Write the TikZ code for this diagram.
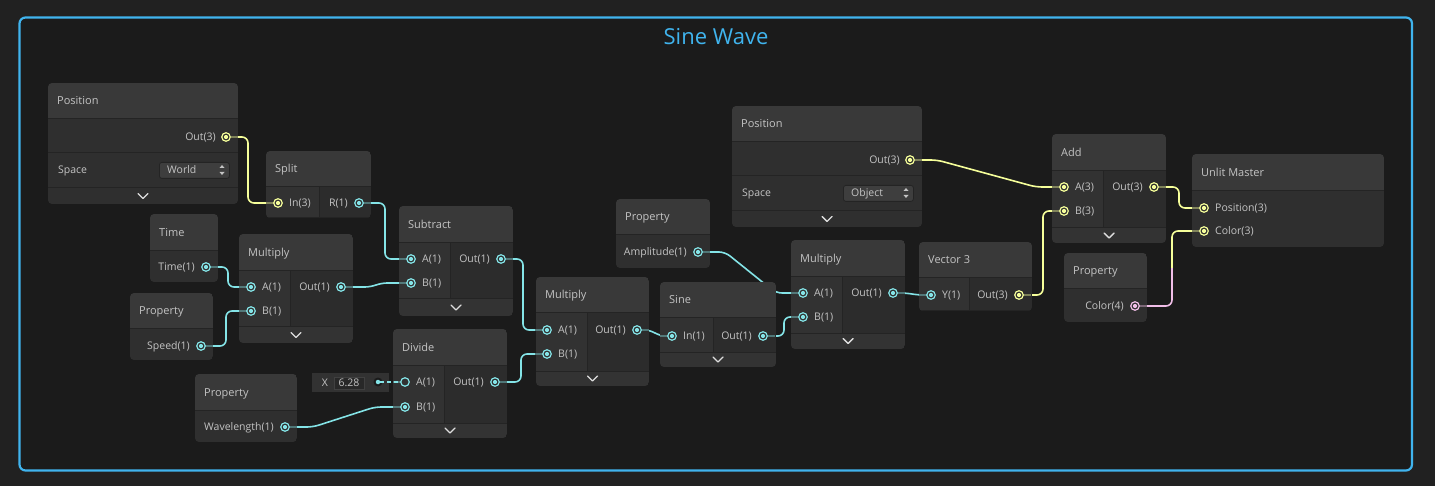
\documentclass[tikz,border=0pt]{standalone}
\usepackage{fontspec}
\setmainfont{Open Sans}
\usepackage{tikz}
\usetikzlibrary{calc}
\definecolor{sgOuter}{RGB}{33,33,33}
\definecolor{sgInner}{RGB}{27,27,27}
\definecolor{frameBlue}{RGB}{64,180,238}
\definecolor{sgHead}{RGB}{57,57,57}
\definecolor{sgBody}{RGB}{47,47,47}
\definecolor{sgIn}{RGB}{50,50,50}
\definecolor{sgOut}{RGB}{44,44,44}
\definecolor{sgChevRow}{RGB}{51,51,51}
\definecolor{sgLine}{RGB}{36,36,36}
\definecolor{sgText}{RGB}{196,196,196}
\definecolor{sgChev}{RGB}{222,222,222}
\definecolor{wireC}{RGB}{132,228,231}
\definecolor{wireY}{RGB}{246,255,154}
\definecolor{wireP}{RGB}{241,190,232}
\definecolor{dropFill}{RGB}{62,62,62}
\definecolor{dropLine}{RGB}{36,36,36}
\definecolor{fieldFill}{RGB}{50,50,50}
\definecolor{valFill}{RGB}{40,40,40}
\definecolor{valLine}{RGB}{64,64,64}
\pgfdeclarelayer{back}
\pgfdeclarelayer{wires}
\pgfsetlayers{back,wires,main}
\tikzset{
  groupframe/.style={draw=frameBlue, line width=2.2pt, fill=sgInner, rounded corners=6pt},
  grouptitle/.style={text=frameBlue, inner sep=0pt, font=\fontsize{22}{26}\selectfont},
  sgtitle/.style={anchor=west, inner sep=0pt, text=sgText, text height=10pt, text depth=2pt, font=\fontsize{11}{13}\selectfont},
  plabel/.style={inner sep=0pt, text=sgText, text height=9.5pt, text depth=2pt, font=\fontsize{10.5}{12}\selectfont},
  sgport/.style={circle, draw=#1, line width=1.2pt, minimum size=8.5pt, inner sep=0pt,
    path picture={\fill[#1] (path picture bounding box.center) circle (2.1pt);}},
  hollowport/.style={circle, draw=#1, line width=1.2pt, minimum size=8.5pt, inner sep=0pt},
  chevron/.style={draw=sgChev, line width=1.4pt, line cap=round, line join=round},
  dropbox/.style={draw=dropLine, fill=dropFill, rounded corners=2.5pt, line width=0.8pt, inner sep=0pt},
  wire/.style={line width=1.6pt, rounded corners=6pt},
}
% node with header and body
\newcommand{\sgprop}[7]{%
  \begin{scope}
    \clip[rounded corners=4pt] (#2,#3) rectangle (#4,#5);
    \fill[sgHead] (#2,#3) rectangle (#4,#6);
    \fill[sgBody] (#2,#6) rectangle (#4,#5);
    \draw[sgLine, line width=1pt] (#2,#6) -- (#4,#6);
  \end{scope}
  \node[sgtitle] (#1) at (#2+9,{(#3+#6)/2}) {#7};
}
% node with input / output columns
\newcommand{\sgmath}[9]{%
  \begin{scope}
    \clip[rounded corners=4pt] (#2,#3) rectangle (#4,#5);
    \fill[sgHead] (#2,#3) rectangle (#4,#6);
    \fill[sgChevRow] (#2,#8) rectangle (#4,#5);
    \fill[sgIn] (#2,#6) rectangle (#7,#8);
    \fill[sgOut] (#7,#6) rectangle (#4,#8);
    \draw[sgLine, line width=1pt] (#2,#6) -- (#4,#6) (#2,#8) -- (#4,#8) (#7,#6) -- (#7,#8);
  \end{scope}
  \node[sgtitle] (#1) at (#2+9,{(#3+#6)/2}) {#9};
  \ifnum#8<#5
    \draw[chevron] ({(#2+#4)/2-5},{(#8+#5)/2-2.5}) -- ++(5,5) -- ++(5,-5);
  \fi
}
\newcommand{\sgposition}[4]{%
  \begin{scope}[shift={(#2,#3)}]
    \begin{scope}
      \clip[rounded corners=4pt] (0,0) rectangle (190,121);
      \fill[sgHead] (0,0) rectangle (190,36);
      \fill[sgBody] (0,36) rectangle (190,121);
      \draw[sgLine, line width=1pt] (0,36) -- (190,36) (0,70) -- (190,70) (0,105) -- (190,105);
    \end{scope}
    \node[sgtitle] (#1) at (9,18) {Position};
    \draw[{wireY!40!sgBody}, line width=1.6pt] (183,54) -- (190,54);
    \node[sgport=wireY] (#1out) at (178,54) {};
    \node[plabel, anchor=east] (#1outlab) at (168,54) {Out(3)};
    \node[plabel, anchor=west] (#1sp) at (10,87) {Space};
    \node[dropbox, minimum width=70pt, minimum height=16pt, anchor=north west] (#1dd) at (111,79) {};
    \node[plabel, anchor=west] (#1ddlab) at (119,87) {#4};
    \fill[sgText] (171.5,85) -- (176.5,85) -- (174,82) -- cycle;
    \fill[sgText] (171.5,89) -- (176.5,89) -- (174,92) -- cycle;
    \draw[chevron] (90,110.5) -- ++(5,5) -- ++(5,-5);
  \end{scope}
}
\newcommand{\inport}[5]{%
  \draw[{#4!40!sgIn}, line width=1.6pt] (#2-12,#3) -- (#2-4,#3);
  \node[sgport=#4] (#1) at (#2,#3) {};
  \node[plabel, anchor=west] (#1lab) at (#2+11,#3) {#5};
}
\newcommand{\outport}[5]{%
  \draw[{#4!40!sgOut}, line width=1.6pt] (#2+4,#3) -- (#2+12,#3);
  \node[sgport=#4] (#1) at (#2,#3) {};
  \node[plabel, anchor=east] (#1lab) at (#2-11,#3) {#5};
}
\begin{document}
\begin{tikzpicture}[x=1pt,y=-1pt]
\useasboundingbox (0,0) rectangle (1435,486);
\begin{pgfonlayer}{back}
\fill[sgOuter] (0,0) rectangle (1435,486);
\draw[groupframe] (19.5,17.5) rectangle (1412,470.5);
\end{pgfonlayer}
\node[grouptitle] (title) at (716,37) {Sine Wave};

% left part
\sgposition{posw}{48}{83}{World}
\sgmath{split}{266}{151}{371}{218}{187}{319}{218}{Split}
\inport{splitin}{278}{203}{wireY}{In(3)}
\outport{splitr}{359}{203}{wireC}{R(1)}

\sgprop{time}{150}{214}{218}{282}{251}{Time}
\outport{timeout}{206}{267}{wireC}{Time(1)}
\sgprop{speed}{130}{293}{213}{360}{329}{Property}
\outport{speedout}{201}{346}{wireC}{Speed(1)}

\sgmath{mulA}{239}{234}{353}{343}{271}{290}{327}{Multiply}
\inport{mulAa}{251}{287}{wireC}{A(1)}
\inport{mulAb}{251}{311}{wireC}{B(1)}
\outport{mulAout}{341}{287}{wireC}{Out(1)}

\sgmath{sub}{399}{206}{513}{316}{243}{450}{299}{Subtract}
\inport{suba}{411}{259}{wireC}{A(1)}
\inport{subb}{411}{283}{wireC}{B(1)}
\outport{subout}{501}{259}{wireC}{Out(1)}

\sgprop{wave}{195}{374}{297}{442}{410}{Property}
\outport{waveout}{285}{427}{wireC}{Wavelength(1)}

\sgmath{div}{393}{329}{507}{438}{365}{444}{423}{Divide}
\draw[{wireC!40!sgIn}, line width=1.6pt] (393,382) -- (401,382);
\node[hollowport=wireC] (diva) at (405,382) {};
\node[plabel, anchor=west] (divalab) at (416,382) {A(1)};
\inport{divb}{405}{407}{wireC}{B(1)}
\outport{divout}{495}{382}{wireC}{Out(1)}

% constant input of Divide
\node[fill=fieldFill, minimum width=77pt, minimum height=19pt, inner sep=0pt] (field) at (350.5,382.5) {};
\node[plabel] (fieldx) at (325,382.5) {X};
\node[fill=valFill, draw=valLine, line width=0.6pt, minimum width=30pt, minimum height=12pt,
  inner sep=0pt, text=sgText, font=\fontsize{10.5}{12}\selectfont] (fieldval) at (349,383) {6.28};
\node[circle, fill=sgInner, minimum size=9pt, inner sep=0pt] (fieldring) at (378,382) {};
\node[circle, fill=wireC, minimum size=4.5pt, inner sep=0pt] (fieldout) at (378,382) {};
\draw[wireC, line width=1.6pt, dash pattern=on 4pt off 3pt] (fieldout) -- (diva);

% middle part
\sgmath{mulB}{536}{277}{649}{386}{313}{587}{371}{Multiply}
\inport{mulBa}{547}{330}{wireC}{A(1)}
\inport{mulBb}{547}{354}{wireC}{B(1)}
\outport{mulBout}{637}{330}{wireC}{Out(1)}

\sgprop{amp}{616}{199}{710}{268}{235}{Property}
\outport{ampout}{698}{252}{wireC}{Amplitude(1)}

\sgmath{sine}{660}{282}{776}{367}{318}{713}{352}{Sine}
\inport{sinein}{672}{336}{wireC}{In(1)}
\outport{sineout}{763}{336}{wireC}{Out(1)}

\sgmath{mulC}{791}{240}{905}{349}{277}{842}{333}{Multiply}
\inport{mulCa}{803}{293}{wireC}{A(1)}
\inport{mulCb}{803}{317}{wireC}{B(1)}
\outport{mulCout}{893}{293}{wireC}{Out(1)}

% right part
\sgposition{poso}{732}{106}{Object}

\sgmath{vec}{919}{242}{1032}{311}{278}{969}{311}{Vector 3}
\inport{vecy}{931}{295}{wireC}{Y(1)}
\outport{vecout}{1019}{295}{wireY}{Out(3)}

\sgmath{add}{1052}{134}{1166}{243}{171}{1103}{228}{Add}
\inport{adda}{1064}{187}{wireY}{A(3)}
\inport{addb}{1064}{211}{wireY}{B(3)}
\outport{addout}{1154}{187}{wireY}{Out(3)}

\sgprop{pcol}{1064}{253}{1147}{322}{289}{Property}
\outport{pcolout}{1135}{306}{wireP}{Color(4)}

\sgprop{master}{1192}{154}{1384}{247}{191}{Unlit Master}
\inport{mpos}{1204}{208}{wireY}{Position(3)}
\inport{mcol}{1204}{231}{wireY}{Color(3)}

% edges
\begin{pgfonlayer}{wires}
\draw[wire, draw=wireY] (poswout.center) -- ++(22,0) |- (splitin.center);
\draw[wire, draw=wireC] (splitr.center) -- ++(26,0) |- (suba.center);
\draw[wire, draw=wireC] (timeout.center) -- ++(22,0) |- (mulAa.center);
\draw[wire, draw=wireC] (speedout.center) -- ++(25,0) |- (mulAb.center);
\draw[wire, draw=wireC] (mulAout.center) -- ++(30,0) -- ($(subb.center)+(-30,0)$) -- (subb.center);
\draw[wire, draw=wireC] (subout.center) -- ++(22,0) |- (mulBa.center);
\draw[wire, draw=wireC] (divout.center) -- ++(26,0) |- (mulBb.center);
\draw[wire, draw=wireC] (waveout.center) -- ++(28,0) -- ($(divb.center)+(-30,0)$) -- (divb.center);
\draw[wire, draw=wireC] (mulBout.center) -- ++(13,0) -- ($(sinein.center)+(-12,0)$) -- (sinein.center);
\draw[wire, draw=wireC] (ampout.center) -- ++(27,0) -- ($(mulCa.center)+(-27,0)$) -- (mulCa.center);
\draw[wire, draw=wireC] (sineout.center) -- ++(21,0) |- (mulCb.center);
\draw[wire, draw=wireC] (mulCout.center) -- ++(13,0) -- ($(vecy.center)+(-13,0)$) -- (vecy.center);
\draw[wire, draw=wireY] (vecout.center) -- ++(24,0) |- (addb.center);
\draw[wire, draw=wireY] (posoout.center) -- ++(27,0) -- ($(adda.center)+(-28,0)$) -- (adda.center);
\draw[wire, draw=wireY] (addout.center) -- ++(25,0) |- (mpos.center);
\coordinate (colbend) at (1172,268);
\draw[wire, draw=wireP] (pcolout.center) -- ++(37,0) -- (colbend);
\draw[wire, draw=wireY] (colbend) |- (mcol.center);
\end{pgfonlayer}
\end{tikzpicture}
\end{document}
